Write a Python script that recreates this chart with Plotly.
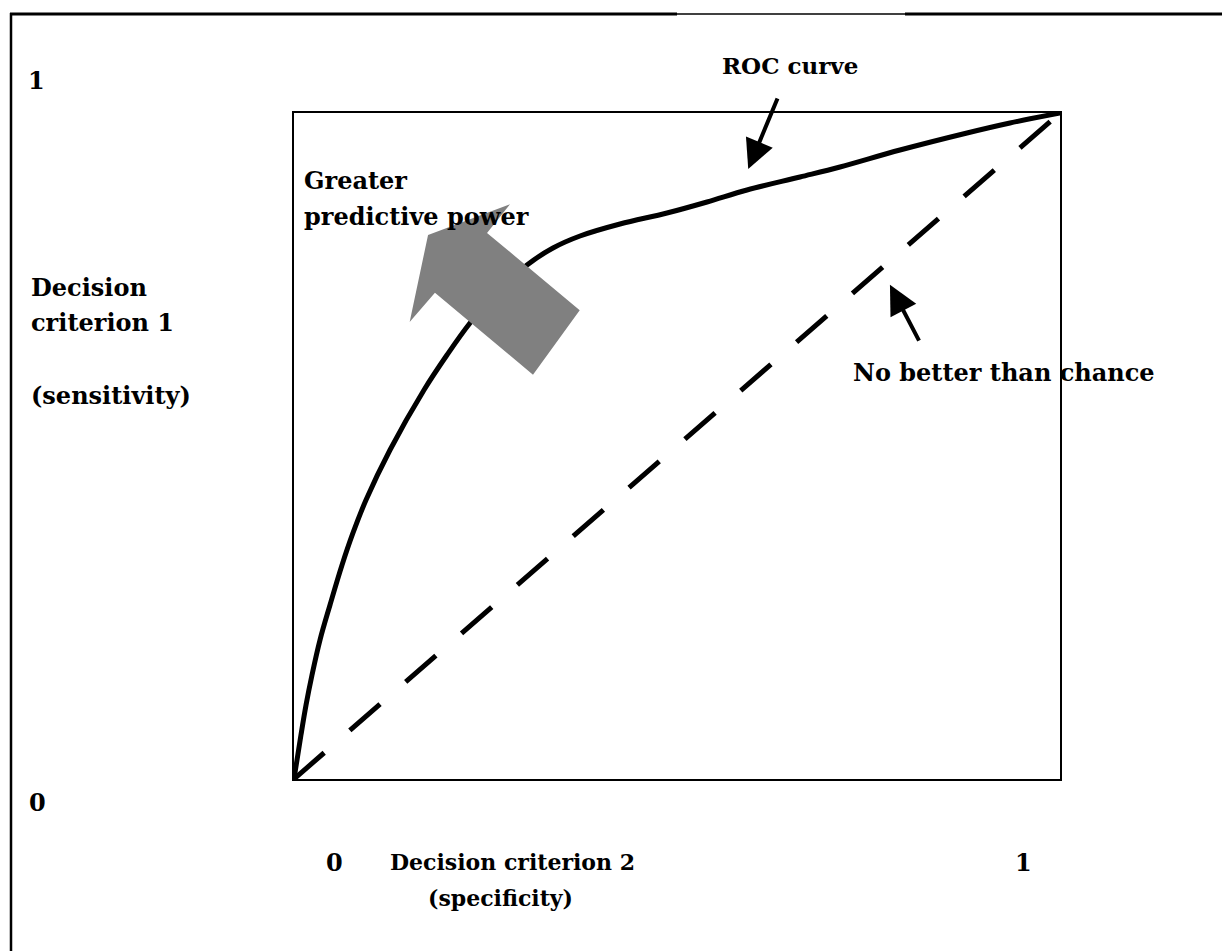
import plotly.graph_objects as go

# page body adds an 8px margin; the figure is sized so that it fills the window
OFF = 8
W, H = 1230 - OFF, 951 - OFF

# ROC curve (x axis: decision criterion 2 position, y: sensitivity)
roc_x = [0.0, 0.0039, 0.0091, 0.0157, 0.0235, 0.0339, 0.0470, 0.0627, 0.0770, 0.0940,
         0.1253, 0.1697, 0.1997, 0.2298, 0.2663, 0.3042, 0.3381, 0.3734, 0.4256, 0.4869,
         0.5392, 0.5914, 0.6606, 0.7128, 0.7911, 0.8786, 0.9347, 1.0]
roc_y = [0.0, 0.0285, 0.0661, 0.1111, 0.1562, 0.2087, 0.2613, 0.3213, 0.3694, 0.4189,
         0.4940, 0.5841, 0.6366, 0.6847, 0.7327, 0.7718, 0.7973, 0.8153, 0.8333, 0.8498,
         0.8664, 0.8844, 0.9039, 0.9189, 0.9444, 0.9700, 0.9850, 1.0]

# chance line
chance_x = [0.0, 1.0]
chance_y = [0.0, 1.0]

# big grey block arrow ("Greater predictive power"), in data coordinates
big_arrow_x = [0.175, 0.282, 0.252, 0.373, 0.312, 0.184, 0.151, 0.175]
big_arrow_y = [0.817, 0.863, 0.820, 0.704, 0.607, 0.730, 0.686, 0.817]

# tick labels
x_tick_labels = ["0", "1"]
y_tick_labels = ["0", "1"]


def font(size):
    return dict(family="DejaVu Serif", size=size, color="black", weight="bold")


fig = go.Figure()
fig.add_trace(go.Scatter(x=roc_x, y=roc_y, mode="lines",
                         line=dict(color="black", width=5, shape="spline", smoothing=1.0),
                         hoverinfo="skip", showlegend=False))
fig.add_trace(go.Scatter(x=chance_x, y=chance_y, mode="lines",
                         line=dict(color="black", width=5, dash="40px,34px"),
                         hoverinfo="skip", showlegend=False))
fig.add_trace(go.Scatter(x=big_arrow_x, y=big_arrow_y, mode="lines", fill="toself",
                         fillcolor="#808080", line=dict(width=0, color="#808080"),
                         hoverinfo="skip", showlegend=False))


def px(xp):
    return (xp - OFF) / W


def py(yp):
    return 1 - (yp - OFF) / H


ax_common = dict(range=[0, 1], showgrid=False, zeroline=False, showticklabels=False,
                 ticks="", showline=True, mirror=True, linecolor="black", linewidth=1.5,
                 fixedrange=True)
fig.update_layout(
    width=W, height=H, margin=dict(l=0, r=0, t=0, b=0),
    paper_bgcolor="white", plot_bgcolor="white", showlegend=False,
    xaxis=dict(domain=[px(294), px(1060)], **ax_common),
    yaxis=dict(domain=[py(779), py(113)], **ax_common),
)

texts = [
    (y_tick_labels[1], 36, 80, "center", 24),
    (y_tick_labels[0], 37, 802, "center", 24),
    (x_tick_labels[0], 334, 862, "center", 24),
    (x_tick_labels[1], 1024, 862, "center", 24),
    ("Decision criterion 2", 512, 862, "center", 22),
    ("(specificity)", 500, 898, "center", 22),
    ("Decision", 29, 287, "left", 24),
    ("criterion 1", 29, 322, "left", 24),
    ("(sensitivity)", 29, 395, "left", 24),
    ("ROC curve", 790, 65, "center", 23),
    ("No better than chance", 1004, 373, "center", 24),
    ("Greater", 302, 180, "left", 24),
    ("predictive power", 302, 217, "left", 24),
]
for t, xp, yp, anchor, fs in texts:
    fig.add_annotation(text=t, xref="paper", yref="paper", x=px(xp), y=py(yp),
                       xanchor=anchor, yanchor="middle", showarrow=False, font=font(fs))

# pointer arrows (data coordinates)
fig.add_annotation(x=0.593, y=0.916, ax=0.632, ay=1.024, xref="x", yref="y", axref="x", ayref="y",
                   text="", showarrow=True, arrowhead=2, arrowsize=1.45, arrowwidth=4,
                   arrowcolor="black")
fig.add_annotation(x=0.778, y=0.742, ax=0.817, ay=0.656, xref="x", yref="y", axref="x", ayref="y",
                   text="", showarrow=True, arrowhead=2, arrowsize=1.45, arrowwidth=4,
                   arrowcolor="black")

# outer frame
fig.add_shape(type="line", xref="paper", yref="paper", x0=px(10), x1=px(677), y0=py(14), y1=py(14),
              line=dict(color="black", width=3))
fig.add_shape(type="line", xref="paper", yref="paper", x0=px(677), x1=px(905), y0=py(14), y1=py(14),
              line=dict(color="black", width=1.5))
fig.add_shape(type="line", xref="paper", yref="paper", x0=px(905), x1=1, y0=py(14), y1=py(14),
              line=dict(color="black", width=3))
fig.add_shape(type="line", xref="paper", yref="paper", x0=px(11), x1=px(11), y0=py(13), y1=0,
              line=dict(color="black", width=2.5))

fig.write_html("out.html")
